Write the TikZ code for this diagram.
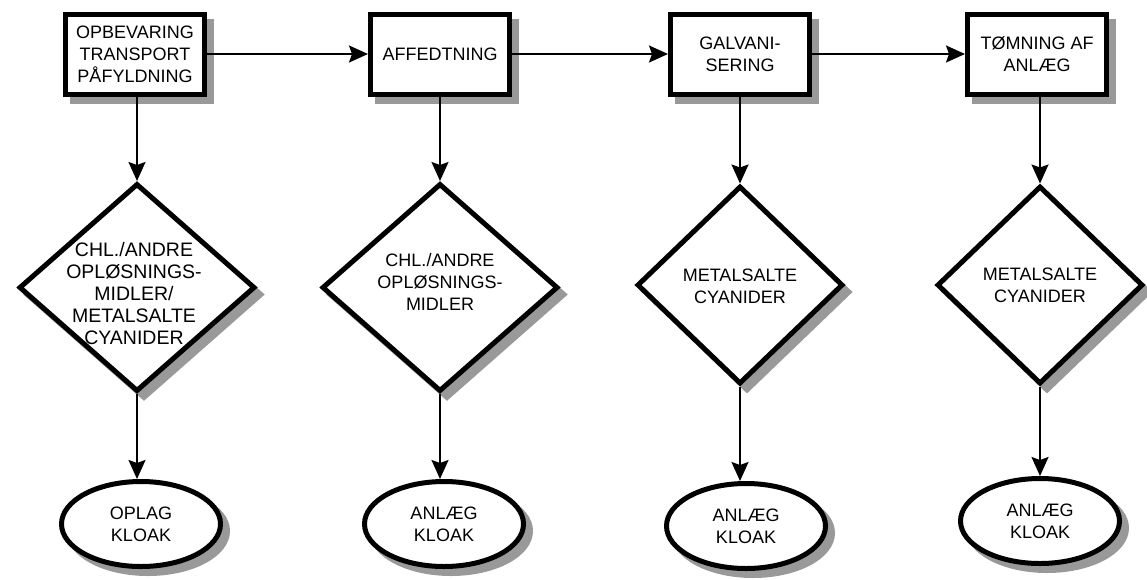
\documentclass[tikz,border=0pt]{standalone}
\usepackage{fontspec}
\setmainfont{Liberation Sans}
\usetikzlibrary{shapes.geometric,arrows.meta,shadows}
\definecolor{shadowgray}{gray}{0.6}
\begin{document}
\begin{tikzpicture}[x=1pt,y=-1pt,
  font=\fontsize{18}{22}\selectfont,
  castshadow/.style={drop shadow={shadow xshift=7pt,shadow yshift=-7pt,
      fill=shadowgray,draw=shadowgray,opacity=1}},
  stepbox/.style={rectangle,draw,line width=5pt,fill=white,
      minimum width=139pt,minimum height=80pt,inner sep=0pt,
      align=center,castshadow},
  bigdia/.style={diamond,draw,line width=5pt,fill=white,inner sep=0pt,
      minimum width=236pt,minimum height=208pt,castshadow},
  smalldia/.style={diamond,draw,line width=5pt,fill=white,inner sep=0pt,
      minimum width=206pt,minimum height=198pt,castshadow},
  diatext/.style={align=center,inner sep=0pt},
  outlet/.style={ellipse,draw,line width=5pt,fill=white,inner sep=0pt,
      minimum width=159pt,minimum height=85pt,align=center,castshadow},
  flow/.style={line width=2pt,-{Stealth[length=19pt,width=17pt,inset=3pt]}}
]
\useasboundingbox (0,0) rectangle (1147,579);

% process steps
\node[stepbox] (b1) at (135,54) {OPBEVARING\\TRANSPORT\\PÅFYLDNING};
\node[stepbox] (b2) at (440,54) {AFFEDTNING};
\node[stepbox] (b3) at (740,54) {GALVANI-\\SERING};
\node[stepbox] (b4) at (1037,54) {TØMNING AF\\ANLÆG};

% substances
\node[bigdia]   (d1) at (137,287.5) {};
\node[bigdia]   (d2) at (440,287.5) {};
\node[smalldia] (d3) at (740,285) {};
\node[smalldia] (d4) at (1040,285) {};
\node[diatext,font=\fontsize{19.5}{22}\selectfont] (t1) at (134,294)
  {CHL./ANDRE\\OPLØSNINGS-\\MIDLER/\\METALSALTE\\CYANIDER};
\node[diatext] (t2) at (440,282) {CHL./ANDRE\\OPLØSNINGS-\\MIDLER};
\node[diatext] (t3) at (740,286) {METALSALTE\\CYANIDER};
\node[diatext] (t4) at (1040,285) {METALSALTE\\CYANIDER};

% destinations
\node[outlet] (e1) at (141,524) {OPLAG\\KLOAK};
\node[outlet] (e2) at (444,524) {ANLÆG\\KLOAK};
\node[outlet] (e3) at (746,526) {ANLÆG\\KLOAK};
\node[outlet] (e4) at (1040,521) {ANLÆG\\KLOAK};

% connectors
\draw[flow] (b1) -- (b2);
\draw[flow] (b2) -- (b3);
\draw[flow] (b3) -- (b4);
\foreach \i in {1,2,3,4}{
  \draw[flow] (b\i.south -| d\i.north) -- (d\i.north);
  \draw[flow] (d\i.south) -- (e\i.north -| d\i.south);
}
\end{tikzpicture}
\end{document}
